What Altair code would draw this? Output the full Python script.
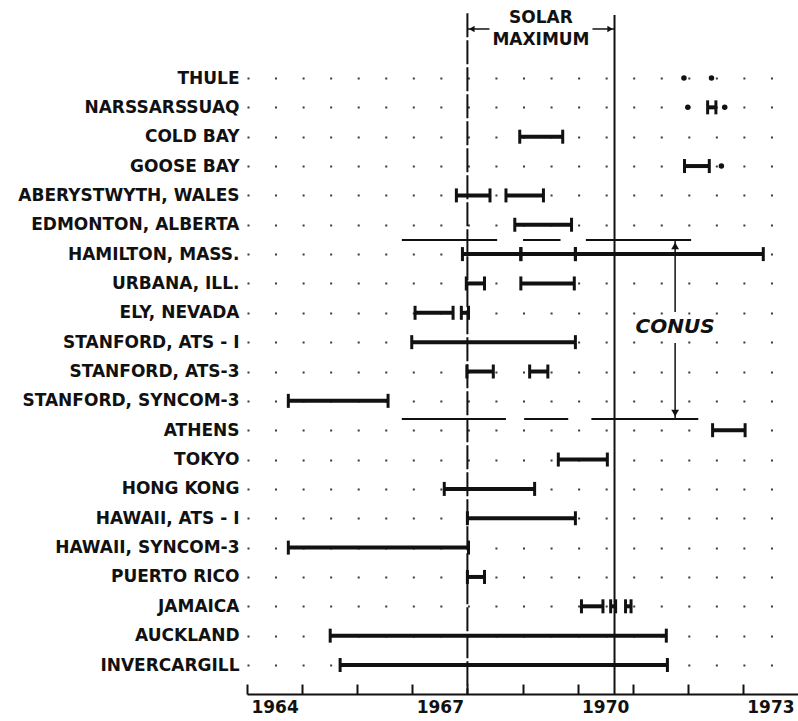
import altair as alt
import pandas as pd

# Observing stations, top to bottom
stations = [
    "THULE", "NARSSARSSUAQ", "COLD BAY", "GOOSE BAY", "ABERYSTWYTH, WALES",
    "EDMONTON, ALBERTA", "HAMILTON, MASS.", "URBANA, ILL.", "ELY, NEVADA",
    "STANFORD, ATS - I", "STANFORD, ATS-3", "STANFORD, SYNCOM-3", "ATHENS",
    "TOKYO", "HONG KONG", "HAWAII, ATS - I", "HAWAII, SYNCOM-3", "PUERTO RICO",
    "JAMAICA", "AUCKLAND", "INVERCARGILL",
]

# Observation periods (decimal years)
seg_station = [
    "NARSSARSSUAQ", "COLD BAY", "GOOSE BAY",
    "ABERYSTWYTH, WALES", "ABERYSTWYTH, WALES", "EDMONTON, ALBERTA",
    "HAMILTON, MASS.", "HAMILTON, MASS.", "HAMILTON, MASS.",
    "URBANA, ILL.", "URBANA, ILL.", "ELY, NEVADA", "ELY, NEVADA",
    "STANFORD, ATS - I", "STANFORD, ATS-3", "STANFORD, ATS-3",
    "STANFORD, SYNCOM-3", "ATHENS", "TOKYO", "HONG KONG",
    "HAWAII, ATS - I", "HAWAII, SYNCOM-3", "PUERTO RICO",
    "JAMAICA", "JAMAICA", "JAMAICA", "AUCKLAND", "INVERCARGILL",
]
seg_start = [
    1972.36, 1968.95, 1971.94,
    1967.80, 1968.70, 1968.86,
    1967.91, 1968.97, 1969.96,
    1967.98, 1968.97, 1967.05, 1967.89,
    1966.99, 1967.99, 1969.13,
    1964.75, 1972.45, 1969.65, 1967.58,
    1968.00, 1964.75, 1968.00,
    1970.07, 1970.60, 1970.87, 1965.51, 1965.69,
]
seg_end = [
    1972.51, 1969.73, 1972.39,
    1968.41, 1969.38, 1969.89,
    1968.97, 1969.96, 1973.37,
    1968.31, 1969.94, 1967.74, 1968.02,
    1969.96, 1968.47, 1969.46,
    1966.56, 1973.04, 1970.54, 1969.22,
    1969.96, 1968.02, 1968.31,
    1970.46, 1970.69, 1970.97, 1971.61, 1971.63,
]

# Single-observation points
pt_station = ["THULE", "THULE", "NARSSARSSUAQ", "NARSSARSSUAQ", "GOOSE BAY"]
pt_year = [1971.93, 1972.43, 1972.00, 1972.67, 1972.61]

# Solar maximum bounds
solar_start = 1968.0
solar_end = 1970.67

# CONUS bracket: broken horizontal lines above and below the US stations
conus_top_row = 5.52
conus_bottom_row = 11.62
conus_top_start = [1966.81, 1969.01, 1970.15]
conus_top_end = [1968.54, 1969.69, 1972.06]
conus_bot_start = [1966.81, 1969.03, 1970.25]
conus_bot_end = [1968.70, 1969.83, 1972.19]
conus_x = 1971.77

year_labels = [1964, 1967, 1970, 1973]
year_ticks = list(range(1964, 1974))

INK = "#111111"
FONT = "DejaVu Sans"
W, H = 551, 694
half_year_px = W / 20.0

row_of = {s: i for i, s in enumerate(stations)}

seg_df = pd.DataFrame({"start": seg_start, "end": seg_end,
                       "row": [row_of[s] for s in seg_station]})
cap_df = pd.DataFrame({
    "x": seg_start + seg_end,
    "row": [row_of[s] for s in seg_station] * 2,
})
pt_df = pd.DataFrame({"x": pt_year, "row": [row_of[s] for s in pt_station]})

xscale = alt.Scale(domain=[1964, 1974], nice=False, zero=False)
yscale = alt.Scale(domain=[-2.6576, 20.988], reverse=True, nice=False, zero=False)

name_expr = "[" + ",".join("'" + s + "'" for s in stations) + "][datum.value]"
yaxis = alt.Axis(
    values=list(range(len(stations))), labelExpr=name_expr, title=None,
    ticks=False, domain=False, grid=True, gridColor="#3a3a3a", gridWidth=2,
    gridDash=[2, half_year_px - 2], labelFont=FONT, labelFontWeight="bold",
    labelFontSize=17, labelColor=INK, labelPadding=8, labelLimit=400,
)
# Year labels sit centred within each year's span
label_axis = alt.Axis(
    values=year_labels, format="d", labelOffset=half_year_px, labelFlush=False,
    labelOverlap=False, ticks=False,
    domain=True, domainColor=INK, domainWidth=2, grid=False, title=None,
    labelFont=FONT, labelFontWeight="bold", labelFontSize=17, labelColor=INK,
    labelPadding=5, orient="bottom",
)
# Year-boundary ticks pointing up into the plot
tick_axis = alt.Axis(
    values=year_ticks, labels=False, domain=False, ticks=True, tickSize=10,
    tickWidth=2, tickColor=INK, offset=-10, grid=False, title=None,
    orient="bottom",
)


def Y(field="row"):
    return alt.Y(f"{field}:Q", scale=yscale, axis=yaxis)


def X(field, axis=None):
    return alt.X(f"{field}:Q", scale=xscale, axis=axis)


bars = alt.Chart(seg_df).mark_rule(strokeWidth=4, color=INK).encode(
    x=X("start", label_axis), x2="end", y=Y())

caps = alt.Chart(cap_df).mark_tick(
    orient="vertical", thickness=3, size=14, color=INK, opacity=1
).encode(x=X("x", tick_axis), y=Y())

dots = alt.Chart(pt_df).mark_circle(size=30, color=INK, opacity=1).encode(
    x=X("x"), y=Y())

# Solar maximum boundary lines
sol_start_df = pd.DataFrame({"x": [solar_start], "row": [-2.21], "row2": [20.988]})
sol_end_df = pd.DataFrame({"x": [solar_end], "row": [-2.15], "row2": [20.988]})
line_start = alt.Chart(sol_start_df).mark_rule(
    strokeWidth=2, color=INK, strokeDash=[24, 3]
).encode(x=X("x"), y=Y(), y2="row2")
line_end = alt.Chart(sol_end_df).mark_rule(strokeWidth=2, color=INK).encode(
    x=X("x"), y=Y(), y2="row2")

# "SOLAR MAXIMUM" label with arrows pointing to the bounds
arrow_row = -1.67
shaft_df = pd.DataFrame({"x": [solar_start, 1970.27], "x2": [1968.40, solar_end],
                         "row": [arrow_row, arrow_row]})
shafts = alt.Chart(shaft_df).mark_rule(strokeWidth=1.5, color=INK).encode(
    x=X("x"), x2="x2", y=Y())
head_l = alt.Chart(pd.DataFrame({"x": [solar_start + 0.08], "row": [arrow_row]})).mark_point(
    shape="triangle-left", filled=True, size=40, color=INK, opacity=1
).encode(x=X("x"), y=Y())
head_r = alt.Chart(pd.DataFrame({"x": [solar_end - 0.08], "row": [arrow_row]})).mark_point(
    shape="triangle-right", filled=True, size=40, color=INK, opacity=1
).encode(x=X("x"), y=Y())
solar_text = alt.Chart(pd.DataFrame({
    "x": [(solar_start + solar_end) / 2] * 2,
    "row": [-2.03, -1.31],
    "t": ["SOLAR", "MAXIMUM"],
})).mark_text(font=FONT, fontWeight="bold", fontSize=17, color=INK).encode(
    x=X("x"), y=Y(), text="t:N")

# CONUS bracket
conus_lines_df = pd.DataFrame({
    "x": conus_top_start + conus_bot_start,
    "x2": conus_top_end + conus_bot_end,
    "row": [conus_top_row] * 3 + [conus_bottom_row] * 3,
})
conus_lines = alt.Chart(conus_lines_df).mark_rule(strokeWidth=2, color=INK).encode(
    x=X("x"), x2="x2", y=Y())
conus_shaft_df = pd.DataFrame({"x": [conus_x, conus_x],
                               "row": [conus_top_row, 9.03],
                               "row2": [7.97, conus_bottom_row]})
conus_shaft = alt.Chart(conus_shaft_df).mark_rule(strokeWidth=1.5, color=INK).encode(
    x=X("x"), y=Y(), y2="row2")
conus_up = alt.Chart(pd.DataFrame({"x": [conus_x], "row": [conus_top_row + 0.2]})).mark_point(
    shape="triangle-up", filled=True, size=60, color=INK, opacity=1
).encode(x=X("x"), y=Y())
conus_down = alt.Chart(pd.DataFrame({"x": [conus_x], "row": [conus_bottom_row - 0.2]})).mark_point(
    shape="triangle-down", filled=True, size=60, color=INK, opacity=1
).encode(x=X("x"), y=Y())
conus_text = alt.Chart(pd.DataFrame({"x": [conus_x], "row": [8.5], "t": ["CONUS"]})).mark_text(
    font=FONT, fontWeight="bold", fontStyle="italic", fontSize=20, color=INK
).encode(x=X("x"), y=Y(), text="t:N")

chart = alt.layer(
    bars, caps, dots, line_start, line_end, shafts, head_l, head_r, solar_text,
    conus_lines, conus_shaft, conus_up, conus_down, conus_text,
).resolve_axis(x="independent").properties(
    width=W, height=H,
    autosize=alt.AutoSizeParams(type="none"),
    padding={"left": 247, "top": 0, "right": 0, "bottom": 27},
    background="white",
).configure_view(stroke=None)

chart.save("out.html", embed_options={"renderer": "svg", "actions": False})
